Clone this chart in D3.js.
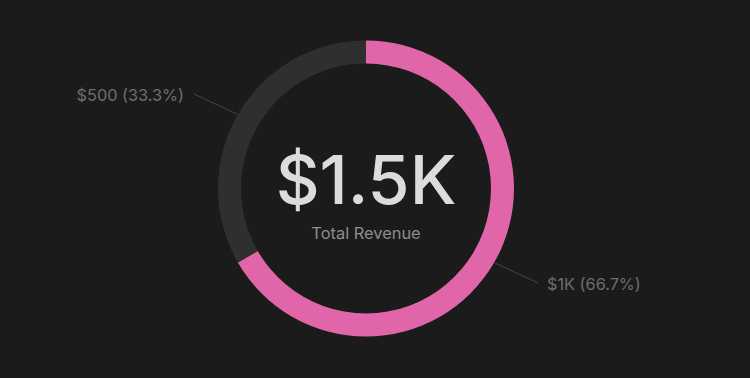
<!DOCTYPE html>
<html>
<head>
<meta charset="utf-8">
<script src="https://cdn.jsdelivr.net/npm/d3@7"></script>
<style>
  html, body { margin: 0; padding: 0; background: #1b1b1b; }
  svg { display: block; font-family: Inter, "Noto Sans", sans-serif; }
</style>
</head>
<body>
<div id="chart"></div>
<script>
// data
var categories = ["Revenue A", "Revenue B"];
var values = [1000, 500];
var valueLabels = ["$1K", "$500"];
var totalLabel = "$1.5K";
var subtitle = "Total Revenue";

var width = 750, height = 378;
var cx = 366, cy = 188.5;
var outerR = 148, innerR = 125;
var colors = ["#e066a9", "#2f2f2f"];

var svg = d3.select("#chart")
  .append("svg")
    .attr("width", width)
    .attr("height", height);

svg.append("rect")
  .attr("width", width)
  .attr("height", height)
  .attr("fill", "#1b1b1b");

var g = svg.append("g")
  .attr("transform", "translate(" + cx + "," + cy + ")");

var total = d3.sum(values);

var pie = d3.pie().sort(null).value(function(d) { return d; });
var arcs = pie(values);

var arc = d3.arc().innerRadius(innerR).outerRadius(outerR);

g.selectAll("path.slice")
  .data(arcs)
  .enter()
  .append("path")
    .attr("class", "slice")
    .attr("d", arc)
    .attr("fill", function(d, i) { return colors[i]; });

// leader lines + labels
function pt(a, r) { return [Math.sin(a) * r, -Math.cos(a) * r]; }

arcs.forEach(function(d, i) {
  var mid = (d.startAngle + d.endAngle) / 2;
  var p0 = pt(mid, outerR + 1);
  var sx = p0[0] > 0 ? 1 : -1, sy = p0[1] > 0 ? 1 : -1;
  var p1 = [p0[0] + sx * 43, p0[1] + sy * 20];
  g.append("line")
    .attr("x1", p0[0]).attr("y1", p0[1])
    .attr("x2", p1[0]).attr("y2", p1[1])
    .attr("stroke", "#474747")
    .attr("stroke-width", 1);
  var right = sx > 0;
  var pct = (values[i] / total * 100).toFixed(1);
  g.append("text")
    .attr("x", p1[0] + (right ? 9 : -10))
    .attr("y", p1[1] + 1)
    .attr("dy", "0.35em")
    .attr("text-anchor", right ? "start" : "end")
    .attr("fill", "#6e6e6e")
    .style("font-size", "16.3px")
    .text(valueLabels[i] + " (" + pct + "%)");
});

// center text
g.append("text")
  .attr("x", 0)
  .attr("y", 15)
  .attr("text-anchor", "middle")
  .attr("fill", "#dcdcdc")
  .style("font-size", "68px")
  .style("font-weight", 500)
  .text(totalLabel);

g.append("text")
  .attr("x", 0)
  .attr("y", 50)
  .attr("text-anchor", "middle")
  .attr("fill", "#8e8e8e")
  .style("font-size", "16.4px")
  .text(subtitle);
</script>
</body>
</html>
